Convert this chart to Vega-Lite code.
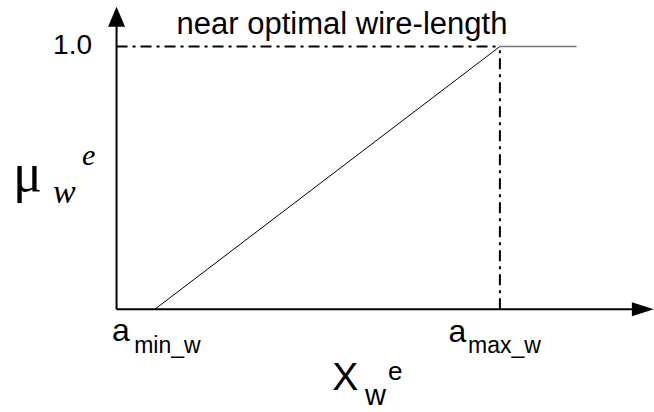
{
  "$schema": "https://vega.github.io/schema/vega-lite/v6.json",
  "width": 654,
  "height": 412,
  "autosize": {"type": "fit", "contains": "padding"},
  "padding": 0,
  "background": "white",
  "config": {"view": {"stroke": null}},
  "datasets": {
    "axes": [
      {"part": "y-axis", "x": 0, "y": 0, "x2": 0, "y2": 1.12},
      {"part": "x-axis", "x": 0, "y": 0, "x2": 1.37, "y2": 0}
    ],
    "guides": [
      {"part": "full membership", "x": 0, "y": 1, "x2": 1, "y2": 1},
      {"part": "a_max", "x": 1, "y": 0, "x2": 1, "y2": 1}
    ],
    "ramp": [{"x": 0.1, "y": 0, "x2": 1, "y2": 1}],
    "plateau": [{"x": 1, "y": 1, "x2": 1.2, "y2": 1}],
    "arrowUp": [{"x": 0, "y": 1.113}],
    "arrowRight": [{"x": 1.373, "y": 0}]
  },
  "encoding": {
    "x": {"field": "x", "type": "quantitative", "scale": {"domain": [-0.304, 1.402], "nice": false, "zero": false}, "axis": null},
    "y": {"field": "y", "type": "quantitative", "scale": {"domain": [-0.372, 1.177], "nice": false, "zero": false}, "axis": null}
  },
  "layer": [
    {
      "data": {"name": "guides"},
      "mark": {"type": "rule", "color": "black", "strokeWidth": 2, "strokeDash": [11, 5, 3, 5]},
      "encoding": {"x2": {"field": "x2"}, "y2": {"field": "y2"}}
    },
    {
      "data": {"name": "plateau"},
      "mark": {"type": "rule", "color": "#777777", "strokeWidth": 1.5},
      "encoding": {"x2": {"field": "x2"}, "y2": {"field": "y2"}}
    },
    {
      "data": {"name": "ramp"},
      "mark": {"type": "rule", "color": "black", "strokeWidth": 1},
      "encoding": {"x2": {"field": "x2"}, "y2": {"field": "y2"}}
    },
    {
      "data": {"name": "axes"},
      "mark": {"type": "rule", "color": "black", "strokeWidth": 2},
      "encoding": {"x2": {"field": "x2"}, "y2": {"field": "y2"}}
    },
    {
      "data": {"name": "arrowUp"},
      "mark": {"type": "point", "shape": "M-0.85,1L0,-1L0.85,1Z", "size": 400, "filled": true, "color": "black", "opacity": 1, "strokeWidth": 0}
    },
    {
      "data": {"name": "arrowRight"},
      "mark": {"type": "point", "shape": "M-1,-0.64L1,0L-1,0.64Z", "size": 484, "filled": true, "color": "black", "opacity": 1, "strokeWidth": 0}
    },
    {
      "data": {"values": [{"x": 0.588, "y": 1.049, "label": "near optimal wire-length"}]},
      "mark": {"type": "text", "font": "Liberation Sans", "fontSize": 31, "align": "center", "baseline": "alphabetic", "color": "black"},
      "encoding": {"text": {"field": "label"}}
    },
    {
      "data": {"values": [{"x": -0.064, "y": 0.97, "label": "1.0"}]},
      "mark": {"type": "text", "font": "Liberation Sans", "fontSize": 28, "align": "right", "baseline": "alphabetic", "color": "black"},
      "encoding": {"text": {"field": "label"}}
    },
    {
      "data": {"values": [{"x": -0.27, "y": 0.45, "label": "μ"}]},
      "mark": {"type": "text", "font": "Liberation Serif", "fontSize": 54, "align": "left", "baseline": "alphabetic", "color": "black"},
      "encoding": {"text": {"field": "label"}}
    },
    {
      "data": {"values": [{"x": -0.166, "y": 0.406, "label": "w"}]},
      "mark": {"type": "text", "font": "Liberation Serif", "fontStyle": "italic", "fontSize": 34, "align": "left", "baseline": "alphabetic", "color": "black"},
      "encoding": {"text": {"field": "label"}}
    },
    {
      "data": {"values": [{"x": -0.09, "y": 0.549, "label": "e"}]},
      "mark": {"type": "text", "font": "Liberation Serif", "fontStyle": "italic", "fontSize": 30, "align": "left", "baseline": "alphabetic", "color": "black"},
      "encoding": {"text": {"field": "label"}}
    },
    {
      "data": {"values": [{"x": -0.012, "y": -0.12, "label": "a"}, {"x": 0.866, "y": -0.124, "label": "a"}]},
      "mark": {"type": "text", "font": "Liberation Sans", "fontSize": 32, "align": "left", "baseline": "alphabetic", "color": "black"},
      "encoding": {"text": {"field": "label"}}
    },
    {
      "data": {"values": [{"x": 0.046, "y": -0.165, "label": "min_w"}, {"x": 0.917, "y": -0.165, "label": "max_w"}]},
      "mark": {"type": "text", "font": "Liberation Sans", "fontSize": 23, "align": "left", "baseline": "alphabetic", "color": "black"},
      "encoding": {"text": {"field": "label"}}
    },
    {
      "data": {"values": [{"x": 0.563, "y": -0.308, "label": "X"}]},
      "mark": {"type": "text", "font": "Liberation Sans", "fontSize": 39, "align": "left", "baseline": "alphabetic", "color": "black"},
      "encoding": {"text": {"field": "label"}}
    },
    {
      "data": {"values": [{"x": 0.648, "y": -0.365, "label": "w"}]},
      "mark": {"type": "text", "font": "Liberation Sans", "fontSize": 29, "align": "left", "baseline": "alphabetic", "color": "black"},
      "encoding": {"text": {"field": "label"}}
    },
    {
      "data": {"values": [{"x": 0.708, "y": -0.271, "label": "e"}]},
      "mark": {"type": "text", "font": "Liberation Sans", "fontSize": 26, "align": "left", "baseline": "alphabetic", "color": "black"},
      "encoding": {"text": {"field": "label"}}
    }
  ]
}
